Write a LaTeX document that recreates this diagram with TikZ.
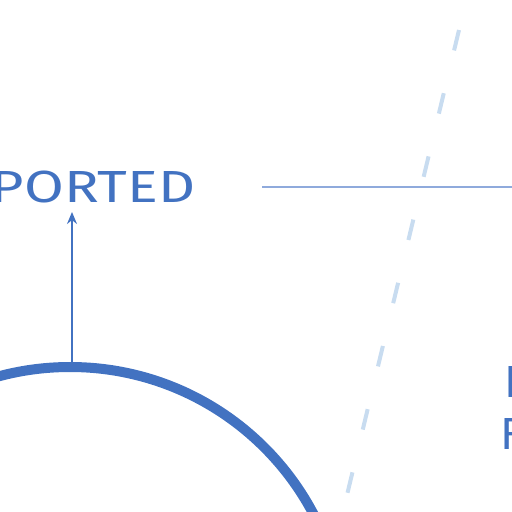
\documentclass[tikz,border=0pt]{standalone}
\usepackage{fontspec}
\setmainfont{Fira Sans}
\usepackage{tikz}
\usetikzlibrary{calc, arrows.meta}
\definecolor{ink}{RGB}{66, 114, 193}
\definecolor{rule}{RGB}{143, 170, 220}
\definecolor{pale}{RGB}{200, 220, 240}

\begin{document}
\begin{tikzpicture}[x=1pt, y=-1pt, thick,
  label/.style={text=ink, font=\fontsize{45}{45}\selectfont, inner sep=0pt}]

  \useasboundingbox (0, 0) rectangle (512, 512);

  \begin{scope}
    \clip (0, 0) rectangle (512, 512);
    \draw[line width=10pt, color=ink] (70, 642) circle (275);
  \end{scope}

  % dashed guide and the thin rule
  \draw[pale, line width=4pt, dash pattern=on 21pt off 44pt] (459, 30) -- (347, 495);
  \draw[rule, line width=1.3pt] (262, 187) -- (512, 187);

  \node[label, anchor=east, xscale=1.28] (ported) at (196, 187) {PORTED};
  \node[label, anchor=west] (first) at (504, 382) {I};
  \node[label, anchor=west] (second) at (500, 434) {F};

  \coordinate (top) at (72, 363);
  \coordinate (tip) at (72, 212);
  \draw[ink, line width=1.4pt, -{Stealth[length=12pt, width=10pt]}] (top) -- (tip);

\end{tikzpicture}
\end{document}
